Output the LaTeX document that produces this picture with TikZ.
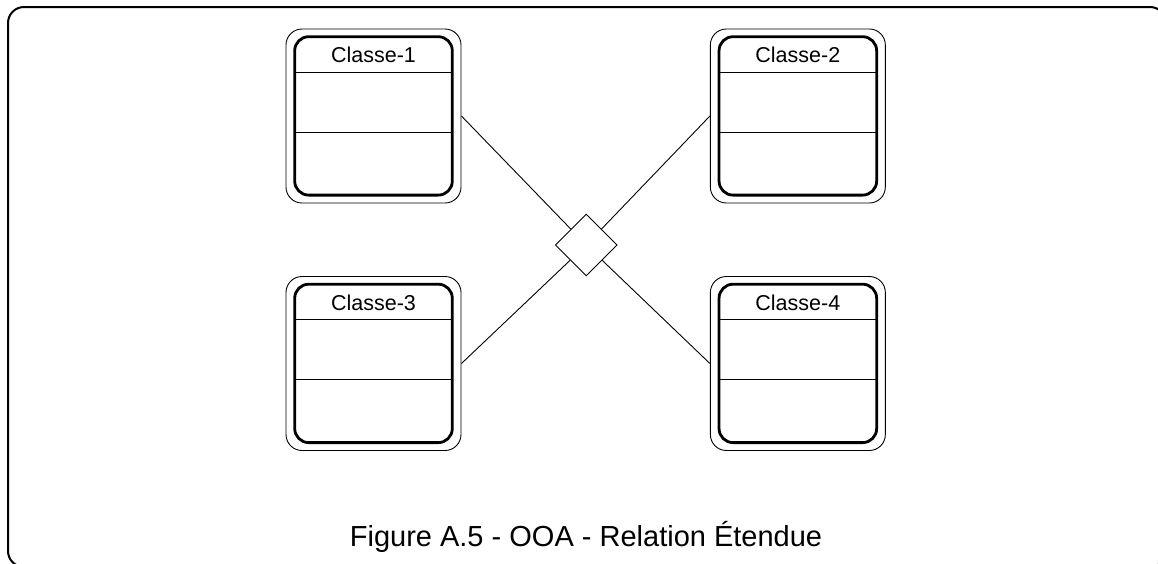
\documentclass[tikz,border=0pt]{standalone}
\usepackage{fontspec}
\setmainfont{Liberation Sans}
\usetikzlibrary{shapes.geometric}
\tikzset{
  classouter/.style={draw=black, line width=0.9pt, rounded corners=16pt, minimum width=175pt, minimum height=174pt, inner sep=0pt},
  classinner/.style={draw=black, line width=2.8pt, rounded corners=14pt},
  sepline/.style={draw=black, line width=0.9pt},
  classtitle/.style={font=\fontsize{21.5}{24}\selectfont, inner sep=0pt},
  relation/.style={draw=black, line width=0.9pt, shape=diamond, aspect=1, minimum width=62pt, minimum height=62pt, inner sep=0pt},
  conn/.style={draw=black, line width=0.9pt},
  frame/.style={draw=black, line width=2pt, rounded corners=16pt},
  caption/.style={font=\fontsize{29}{32}\selectfont, inner sep=0pt}
}
\begin{document}
\begin{tikzpicture}[x=1pt, y=-1pt]
\useasboundingbox (0,0) rectangle (1158,563);
\clip (0,0) rectangle (1158,563);
\fill[white] (0,0) rectangle (1158,563);
\draw[frame] (8,7) rectangle (1166,567);

\node[classouter] (c1) at (373.5,116) {};
\node[classouter] (c2) at (797.85,116) {};
\node[classouter] (c3) at (373.5,363.5) {};
\node[classouter] (c4) at (797.85,363.5) {};

\foreach \n/\t in {c1/Classe-1, c2/Classe-2, c3/Classe-3, c4/Classe-4} {
  \draw[classinner] ([shift={(-78.8,-79.3)}]\n.center) rectangle ([shift={(78.8,79.1)}]\n.center);
  \draw[sepline] ([shift={(-78.8,-44)}]\n.center) -- ([shift={(78.8,-44)}]\n.center);
  \draw[sepline] ([shift={(-78.8,16)}]\n.center) -- ([shift={(78.8,16)}]\n.center);
  \node[classtitle, anchor=base] (\n t) at ([shift={(0,-53.5)}]\n.center) {\t};
}

\node[relation] (d) at (586.2,245) {};

\draw[conn] (c1.east) -- (d);
\draw[conn] (c2.west) -- (d);
\draw[conn] (c3.east) -- (d);
\draw[conn] (c4.west) -- (d);

\node[caption, anchor=base] (cap) at (586,546) {Figure A.5 - OOA - Relation Étendue};
\end{tikzpicture}
\end{document}
